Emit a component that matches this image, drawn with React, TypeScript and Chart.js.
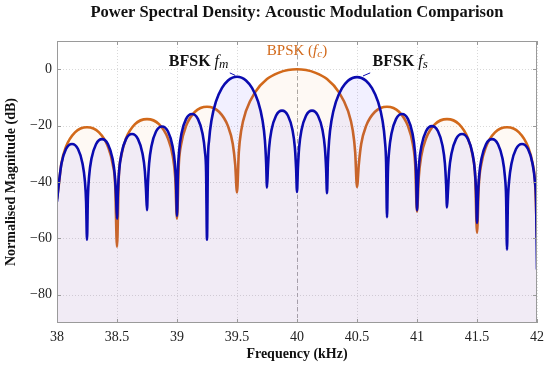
import React, { useEffect, useRef } from "react";
import { Chart, registerables } from "chart.js";

Chart.register(...registerables);

// ---------- data ----------
const bfskFreq = [
  38.0, 38.0175, 38.0375, 38.075, 38.125, 38.175, 38.2125, 38.2325, 38.2425,
  38.25, 38.2575, 38.2675, 38.2875, 38.325, 38.375, 38.425, 38.4625, 38.4825, 38.4925,
  38.5, 38.5075, 38.5175, 38.5375, 38.575, 38.625, 38.675, 38.7125, 38.7325, 38.7425,
  38.75, 38.7575, 38.7675, 38.7875, 38.825, 38.875, 38.925, 38.9625, 38.9825, 38.9925,
  39.0, 39.0075, 39.0175, 39.0375, 39.075, 39.125, 39.175, 39.2125, 39.2325, 39.2425,
  39.25, 39.2575, 39.2675, 39.2875, 39.325, 39.375, 39.425, 39.4625, 39.5, 39.5375, 39.575, 39.625, 39.675, 39.7125, 39.7325, 39.7425,
  39.75, 39.7575, 39.7675, 39.7875, 39.825, 39.875, 39.925, 39.9625, 39.9825, 39.9925,
  40.0, 40.0075, 40.0175, 40.0375, 40.075, 40.125, 40.175, 40.2125, 40.2325, 40.2425,
  40.25, 40.2575, 40.2675, 40.2875, 40.325, 40.375, 40.425, 40.4625, 40.5, 40.5375, 40.575, 40.625, 40.675, 40.7125, 40.7325, 40.7425,
  40.75, 40.7575, 40.7675, 40.7875, 40.825, 40.875, 40.925, 40.9625, 40.9825, 40.9925,
  41.0, 41.0075, 41.0175, 41.0375, 41.075, 41.125, 41.175, 41.2125, 41.2325, 41.2425,
  41.25, 41.2575, 41.2675, 41.2875, 41.325, 41.375, 41.425, 41.4625, 41.4825, 41.4925,
  41.5, 41.5075, 41.5175, 41.5375, 41.575, 41.625, 41.675, 41.7125, 41.7325, 41.7425,
  41.75, 41.7575, 41.7675, 41.7875, 41.825, 41.875, 41.925, 41.9625, 41.9825, 41.9925,
  42.0,
];
const bfskDb = [
  -47, -39.7, -33.4, -28.3, -26.5, -28.3, -33.4, -39.7, -47,
  -60.5, -45.3, -38, -31.7, -26.6, -24.8, -26.6, -31.7, -38, -45.3,
  -53, -43.5, -36.2, -29.9, -24.8, -23, -24.8, -29.9, -36.2, -43.5,
  -50, -40.8, -33.5, -27.2, -22.1, -20.3, -22.1, -27.2, -33.5, -40.8,
  -52, -36.4, -29.1, -22.8, -17.7, -15.9, -17.7, -22.8, -29.1, -36.4,
  -60.5, -32.9, -25.2, -18.1, -11.4, -6.6, -4.0, -3.0, -2.7, -3.0, -4.0, -6.6, -11.4, -18.1, -25.2, -32.9,
  -42, -35.2, -27.9, -21.6, -16.5, -14.7, -16.5, -21.6, -27.9, -35.2,
  -43.5, -35.2, -27.9, -21.6, -16.5, -14.7, -16.5, -21.6, -27.9, -35.2,
  -44, -33.0, -25.3, -18.2, -11.5, -6.7, -4.1, -3.1, -2.8, -3.1, -4.1, -6.7, -11.5, -18.2, -25.3, -33.0,
  -52.5, -36.4, -29.1, -22.8, -17.7, -15.9, -17.7, -22.8, -29.1, -36.4,
  -50, -40.7, -33.4, -27.1, -22.0, -20.2, -22.0, -27.1, -33.4, -40.7,
  -49, -43.5, -36.2, -29.9, -24.8, -23, -24.8, -29.9, -36.2, -43.5,
  -54.5, -45.3, -38, -31.7, -26.6, -24.8, -26.6, -31.7, -38, -45.3,
  -64, -47, -39.7, -33.4, -28.3, -26.5, -28.3, -33.4, -39.7, -47,
  -71,
];

const bpskFreq = [
  38.0, 38.015, 38.035, 38.075, 38.15, 38.25, 38.35, 38.425, 38.465, 38.485,
  38.5, 38.515, 38.535, 38.575, 38.65, 38.75, 38.85, 38.925, 38.965, 38.985,
  39.0, 39.015, 39.035, 39.075, 39.15, 39.25, 39.35, 39.425, 39.465, 39.485,
  39.5, 39.515, 39.535, 39.575, 39.65, 39.75, 39.85, 39.925, 40.0, 40.075, 40.15, 40.25, 40.35, 40.425, 40.465, 40.485,
  40.5, 40.515, 40.535, 40.575, 40.65, 40.75, 40.85, 40.925, 40.965, 40.985,
  41.0, 41.015, 41.035, 41.075, 41.15, 41.25, 41.35, 41.425, 41.465, 41.485,
  41.5, 41.515, 41.535, 41.575, 41.65, 41.75, 41.85, 41.925, 41.965, 41.985,
  42.0,
];
const bpskDb = [
  -46, -41.1, -33.8, -27.5, -22.4, -20.6, -22.4, -27.5, -33.8, -41.1,
  -63, -38.2, -30.9, -24.6, -19.5, -17.7, -19.5, -24.6, -30.9, -38.2,
  -53, -33.8, -26.5, -20.2, -15.1, -13.3, -15.1, -20.2, -26.5, -33.8,
  -43.7, -29.5, -21.8, -14.8, -8.2, -3.5, -1.2, -0.3, 0, -0.3, -1.2, -3.5, -8.2, -14.8, -21.8, -29.5,
  -41.8, -33.8, -26.5, -20.2, -15.1, -13.3, -15.1, -20.2, -26.5, -33.8,
  -50.5, -38.2, -30.9, -24.6, -19.5, -17.7, -19.5, -24.6, -30.9, -38.2,
  -58, -41.1, -33.8, -27.5, -22.4, -20.6, -22.4, -27.5, -33.8, -41.1,
  -60,
];

const xTicks = [38, 38.5, 39, 39.5, 40, 40.5, 41, 41.5, 42];
const yTicks = [-80, -60, -40, -20, 0];
const carrierFreq = 40;

const titleText = "Power Spectral Density: Acoustic Modulation Comparison";

// ---------- styles ----------
const SERIF = '"Liberation Serif", "DejaVu Serif", serif';
const BLUE = "#0b0bb0";
const ORANGE = "#d2691a";

const fmt = (v: number) => (v < 0 ? "\u2212" + Math.abs(v) : String(v));

type Part = { text: string; font: string; dy: number };

function drawParts(ctx: CanvasRenderingContext2D, parts: Part[], cx: number, base: number, color: string) {
  let total = 0;
  for (const p of parts) {
    ctx.font = p.font;
    total += ctx.measureText(p.text).width;
  }
  let x = cx - total / 2;
  ctx.fillStyle = color;
  ctx.textAlign = "left";
  ctx.textBaseline = "alphabetic";
  for (const p of parts) {
    ctx.font = p.font;
    ctx.fillText(p.text, x, base + p.dy);
    x += ctx.measureText(p.text).width;
  }
}

const decorPlugin = {
  id: "decor",
  beforeDatasetsDraw(chart: any) {
    const { ctx, chartArea: a, scales } = chart;
    const xs = scales.x;
    const ys = scales.y;
    ctx.save();
    ctx.strokeStyle = "#cfcfcf";
    ctx.lineWidth = 0.8;
    ctx.setLineDash([1, 2]);
    for (const t of xTicks) {
      const px = Math.round(xs.getPixelForValue(t)) + 0.5;
      ctx.beginPath();
      ctx.moveTo(px, a.top);
      ctx.lineTo(px, a.bottom);
      ctx.stroke();
    }
    for (const t of yTicks) {
      const py = Math.round(ys.getPixelForValue(t)) + 0.5;
      ctx.beginPath();
      ctx.moveTo(a.left, py);
      ctx.lineTo(a.right, py);
      ctx.stroke();
    }
    // carrier dashed line
    ctx.strokeStyle = "#a8a8a8";
    ctx.lineWidth = 1;
    ctx.setLineDash([4, 3]);
    const cx = Math.round(xs.getPixelForValue(carrierFreq)) + 0.5;
    ctx.beginPath();
    ctx.moveTo(cx, a.top);
    ctx.lineTo(cx, a.bottom);
    ctx.stroke();
    ctx.restore();
  },
  afterDatasetsDraw(chart: any) {
    const { ctx, chartArea: a, scales } = chart;
    const xs = scales.x;
    const ys = scales.y;
    ctx.save();
    // frame
    ctx.strokeStyle = "#9a9a9a";
    ctx.lineWidth = 1;
    ctx.setLineDash([]);
    ctx.strokeRect(a.left + 0.5, a.top + 0.5, a.right - a.left - 1, a.bottom - a.top - 1);
    // inner tick marks
    ctx.strokeStyle = "#9a9a9a";
    for (const t of xTicks) {
      const px = Math.round(xs.getPixelForValue(t)) + 0.5;
      ctx.beginPath();
      ctx.moveTo(px, a.bottom);
      ctx.lineTo(px, a.bottom - 4);
      ctx.moveTo(px, a.top);
      ctx.lineTo(px, a.top + 4);
      ctx.stroke();
    }
    for (const t of yTicks) {
      const py = Math.round(ys.getPixelForValue(t)) + 0.5;
      ctx.beginPath();
      ctx.moveTo(a.left, py);
      ctx.lineTo(a.left + 4, py);
      ctx.moveTo(a.right, py);
      ctx.lineTo(a.right - 4, py);
      ctx.stroke();
    }
    // pointer lines
    ctx.strokeStyle = BLUE;
    ctx.lineWidth = 1;
    ctx.beginPath();
    ctx.moveTo(xs.getPixelForValue(39.44), ys.getPixelForValue(-1.3));
    ctx.lineTo(xs.getPixelForValue(39.485), ys.getPixelForValue(-2.2));
    ctx.moveTo(xs.getPixelForValue(40.55), ys.getPixelForValue(-2.4));
    ctx.lineTo(xs.getPixelForValue(40.61), ys.getPixelForValue(-1.3));
    ctx.stroke();

    // labels
    drawParts(
      ctx,
      [
        { text: "BPSK (", font: `15px ${SERIF}`, dy: 0 },
        { text: "f", font: `italic 15px ${SERIF}`, dy: 0 },
        { text: "c", font: `italic 11px ${SERIF}`, dy: 2.5 },
        { text: ")", font: `15px ${SERIF}`, dy: 0 },
      ],
      xs.getPixelForValue(40),
      ys.getPixelForValue(5.1),
      ORANGE
    );
    drawParts(
      ctx,
      [
        { text: "BFSK ", font: `bold 16px ${SERIF}`, dy: 0 },
        { text: "f", font: `italic 16px ${SERIF}`, dy: 0 },
        { text: "m", font: `italic 13px ${SERIF}`, dy: 2.5 },
      ],
      xs.getPixelForValue(39.18),
      ys.getPixelForValue(1.2),
      "#111"
    );
    drawParts(
      ctx,
      [
        { text: "BFSK ", font: `bold 16px ${SERIF}`, dy: 0 },
        { text: "f", font: `italic 16px ${SERIF}`, dy: 0 },
        { text: "s", font: `italic 13px ${SERIF}`, dy: 2.5 },
      ],
      xs.getPixelForValue(40.86),
      ys.getPixelForValue(1.2),
      "#111"
    );
    ctx.restore();
  },
  afterDraw(chart: any) {
    const { ctx, chartArea: a } = chart;
    ctx.save();
    ctx.font = `bold 16.5px ${SERIF}`;
    ctx.fillStyle = "#111";
    ctx.textAlign = "center";
    ctx.textBaseline = "middle";
    ctx.fillText(titleText, (a.left + a.right) / 2, 13);
    ctx.restore();
  },
};

export default function App() {
  const ref = useRef<HTMLCanvasElement | null>(null);
  useEffect(() => {
    if (!ref.current) return;
    const chart = new Chart(ref.current, {
      type: "line",
      data: {
        datasets: [
          {
            label: "BFSK",
            data: bfskFreq.map((f, i) => ({ x: f, y: bfskDb[i] })),
            borderColor: BLUE,
            backgroundColor: "rgba(90, 70, 255, 0.08)",
            borderWidth: 2.6,
            pointRadius: 0,
            fill: "start",
            cubicInterpolationMode: "monotone",
          },
          {
            label: "BPSK",
            data: bpskFreq.map((f, i) => ({ x: f, y: bpskDb[i] })),
            borderColor: ORANGE,
            backgroundColor: "rgba(245, 150, 60, 0.06)",
            borderWidth: 2.6,
            pointRadius: 0,
            fill: "start",
            cubicInterpolationMode: "monotone",
          },
        ],
      },
      options: {
        responsive: false,
        animation: false,
        events: [],
        layout: { padding: { top: 41, right: 9, left: 0, bottom: 0 } },
        plugins: { legend: { display: false }, tooltip: { enabled: false }, title: { display: false } },
        scales: {
          x: {
            type: "linear",
            min: 38,
            max: 42,
            afterBuildTicks: (s: any) => {
              s.ticks = xTicks.map((v) => ({ value: v }));
            },
            afterFit: (s: any) => {
              s.height = 44;
            },
            grid: { display: false, drawTicks: false },
            border: { display: false },
            ticks: {
              padding: 6,
              maxRotation: 0,
              autoSkip: false,
              color: "#222",
              font: { family: SERIF, size: 14 },
              callback: (v: any) => fmt(Number(v)),
            },
            title: {
              display: true,
              text: "Frequency (kHz)",
              color: "#111",
              font: { family: SERIF, size: 14, weight: "bold" },
              padding: { top: 0, bottom: 4 },
            },
          },
          y: {
            type: "linear",
            min: -90,
            max: 10,
            afterBuildTicks: (s: any) => {
              s.ticks = yTicks.map((v) => ({ value: v }));
            },
            afterFit: (s: any) => {
              s.width = 57;
            },
            grid: { display: false, drawTicks: false },
            border: { display: false },
            ticks: {
              padding: 5,
              autoSkip: false,
              color: "#222",
              font: { family: SERIF, size: 14 },
              callback: (v: any) => fmt(Number(v)),
            },
            title: {
              display: true,
              text: "Normalised Magnitude (dB)",
              color: "#111",
              font: { family: SERIF, size: 14, weight: "bold" },
              padding: { top: 3, bottom: 0 },
            },
          },
        },
      },
      plugins: [decorPlugin],
    });
    return () => chart.destroy();
  }, []);
  return (
    <div style={{ position: "absolute", left: 0, top: 0, width: 550, height: 367, background: "#fff" }}>
      <canvas ref={ref} width={550} height={367} style={{ display: "block", width: 550, height: 367 }} />
    </div>
  );
}
